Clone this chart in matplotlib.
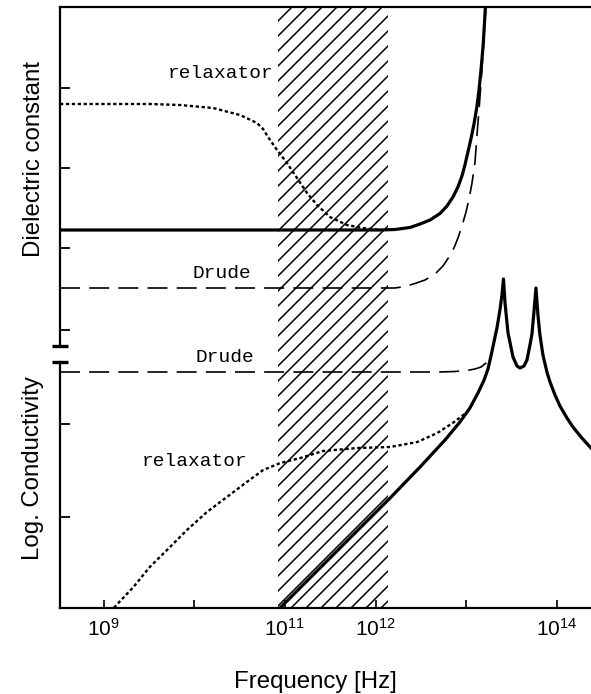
import numpy as np
import matplotlib.pyplot as plt
from matplotlib.collections import LineCollection
from matplotlib.transforms import blended_transform_factory, IdentityTransform

plt.rcParams['font.family'] = 'Liberation Sans'
plt.rcParams['mathtext.fontset'] = 'custom'
plt.rcParams['mathtext.rm'] = 'Liberation Sans'

# x values are log10(frequency / Hz), y values are curve heights (arbitrary units)
eps_tot_lf = [8.520, 12.049, 12.214, 12.379, 12.490, 12.600, 12.710, 12.787, 12.853,
              12.908, 12.952, 12.985, 13.018, 13.051, 13.085, 13.118, 13.140, 13.162,
              13.185, 13.201, 13.218]
eps_tot_h = [378, 378, 378.5, 380.5, 384, 388, 394.5, 402, 411,
             421, 432, 443, 456, 469, 484, 502, 518, 538,
             562, 586, 613]

eps_rel_lf = [8.520, 9.513, 9.843, 10.207, 10.505, 10.692, 10.759, 10.814, 10.913,
              11.023, 11.133, 11.244, 11.354, 11.497, 11.684, 11.861, 12.049]
eps_rel_h = [504, 504, 503, 500, 493, 485, 479, 471, 458,
             445, 430, 415, 403, 391, 383, 380, 378]

eps_dru_lf = [8.520, 12.214, 12.324, 12.434, 12.545, 12.655, 12.743, 12.809, 12.864,
              12.908, 12.952, 12.997, 13.030, 13.063, 13.096, 13.118, 13.140, 13.162,
              13.185, 13.207, 13.223]
eps_dru_h = [320, 320, 321.5, 324.5, 328, 334, 342, 351, 360,
             370, 382, 396, 409, 425, 446, 473, 498, 525,
             556, 588, 613]

sig_dru_lf = [8.52, 12.71, 12.875, 13.007, 13.096, 13.163, 13.218, 13.261]
sig_dru_h = [236, 236, 236.5, 237.5, 239, 241, 245, 250]

sig_rel_lf = [9.07, 9.33, 9.51, 9.70, 9.92, 10.14, 10.36, 10.58, 10.76, 10.95,
              11.17, 11.42, 11.80, 12.16, 12.46, 12.68, 12.85, 13.01]
sig_rel_h = [-4, 21, 41, 58, 78, 96, 111, 126, 138, 145,
             150, 157, 160, 161, 166, 175, 185, 196]

sig_tot_lf = [10.913, 11.166, 11.497, 11.828, 12.160, 12.490, 12.765, 12.930, 13.040,
              13.129, 13.196, 13.239, 13.272, 13.305, 13.338, 13.371, 13.393, 13.410,
              13.427, 13.460, 13.515, 13.559, 13.592, 13.636, 13.669, 13.702, 13.724,
              13.746, 13.768, 13.790, 13.812, 13.845, 13.889, 13.923, 13.978, 14.033,
              14.110, 14.176, 14.265, 14.364, 14.430]
sig_tot_h = [-3, 20, 50, 80, 110, 141, 168, 186, 200,
             215, 228, 239, 252, 266, 280, 298, 313, 329,
             305, 275, 251, 242, 240, 242, 248, 263, 274,
             296, 320, 293, 273, 253, 236, 226, 213, 202,
             190, 181, 171, 161, 155]

band = [10.92, 12.14]
ytick_h = [520, 440, 360, 278, 184, 91]
xtick_lf = [9, 10, 11, 12, 13, 14]
xtick_text = [r'$\mathregular{10^{9}}$', '', r'$\mathregular{10^{11}}$',
              r'$\mathregular{10^{12}}$', '', r'$\mathregular{10^{14}}$']


def f(lf):
    return 10.0 ** np.array(lf)


fig = plt.figure(figsize=(5.91, 6.94), dpi=100)
ax = fig.add_axes([60 / 591, 86 / 694, 531 / 591, 601 / 694])
ax.set_xscale('log')
ax.set_xlim(10 ** 8.52, 10 ** 14.375)
ax.set_ylim(0, 601)

# hatched region: 45 degree lines every 15 px, clipped to the band
span = ax.axvspan(f(band[0]), f(band[1]), facecolor='none', linewidth=0, zorder=1)
segs = [[(c, 0), (c + 800, 800)] for c in np.arange(-800, 700, 15)]
hatch = LineCollection(segs, colors='black', linewidths=1.1,
                       transform=IdentityTransform(), zorder=1)
ax.add_collection(hatch, autolim=False)
hatch.set_clip_path(span)

dots = (0, (1.4, 1.1))
dash = (0, (12, 5.5))

ax.plot(f(eps_tot_lf), eps_tot_h, color='black', lw=2.3, zorder=3)
ax.plot(f(eps_rel_lf), eps_rel_h, color='black', lw=1.7, ls=dots, zorder=3)
ax.plot(f(eps_dru_lf), eps_dru_h, color='black', lw=1.2, ls=dash, zorder=3)

ax.plot(f(sig_dru_lf), sig_dru_h, color='black', lw=1.2, ls=dash, zorder=3)
ax.plot(f(sig_rel_lf), sig_rel_h, color='black', lw=1.7, ls=dots, zorder=3)
ax.plot(f(sig_tot_lf), sig_tot_h, color='black', lw=2.3, zorder=3)

mono = dict(family='Liberation Mono', fontsize=14, ha='center', va='center')
ax.text(f(10.29), 535, 'relaxator', **mono)
ax.text(f(10.31), 335, 'Drude', **mono)
ax.text(f(10.34), 251, 'Drude', **mono)
ax.text(f(10.0), 146, 'relaxator', **mono)

# axes frame: broken left spine
ax.spines['left'].set_visible(False)
ax.spines['right'].set_visible(False)
ax.spines['top'].set_linewidth(1.6)
ax.spines['bottom'].set_linewidth(1.6)
tr = blended_transform_factory(ax.transAxes, ax.transData)
ax.plot([0, 0], [601, 262], color='black', lw=1.6, transform=tr, clip_on=False)
ax.plot([0, 0], [246, 0], color='black', lw=1.6, transform=tr, clip_on=False)
for yb in [262, 246]:
    ax.plot([-0.015, 0.015], [yb, yb], color='black', lw=2.4, transform=tr,
            clip_on=False, solid_capstyle='butt')

ax.set_xticks(f(xtick_lf))
ax.set_xticklabels(xtick_text)
ax.minorticks_off()
ax.set_yticks(ytick_h)
ax.set_yticklabels([])
ax.tick_params(axis='x', direction='in', length=6, width=1.2, labelsize=15, pad=7)
ax.tick_params(axis='y', direction='in', length=7, width=1.3)

fig.text(34 / 591, 1 - 159 / 694, 'Dielectric constant', rotation=90,
         fontsize=17.3, ha='center', va='center')
fig.text(33 / 591, 1 - 468 / 694, 'Log. Conductivity', rotation=90,
         fontsize=17.3, ha='center', va='center')
fig.text(315 / 591, 1 - 688 / 694, 'Frequency [Hz]', fontsize=17.3,
         ha='center', va='baseline')

fig.savefig('out.png', dpi=100)
